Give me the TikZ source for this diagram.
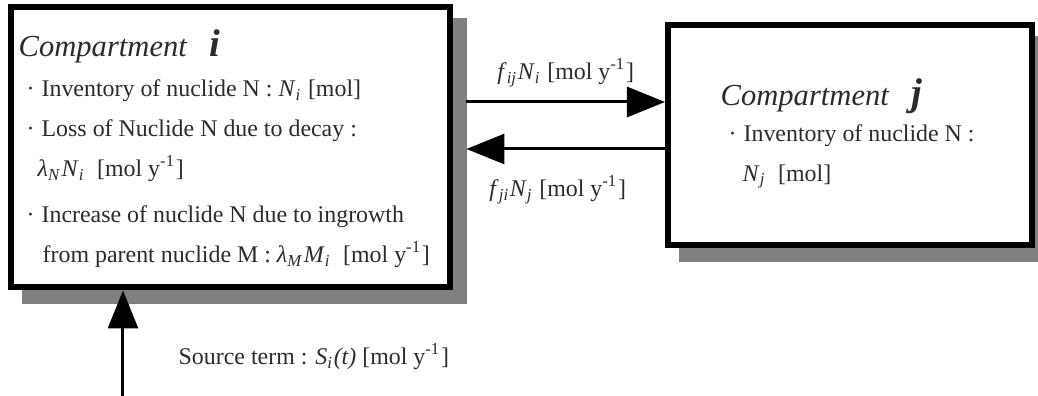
\documentclass[tikz,border=0pt]{standalone}
\usepackage{fontspec}
\setmainfont{Liberation Serif}
\usepackage{tikz}
\usetikzlibrary{arrows.meta,positioning,backgrounds,calc}
\definecolor{shadowgray}{HTML}{808080}
\definecolor{inktext}{HTML}{2B2B2B}
\newcommand{\symb}[2]{\textit{#1}\textsubscript{\textit{#2}}}
\newcommand{\molpy}{[mol y\textsuperscript{-1}]}

\begin{document}
\begin{tikzpicture}[>=Stealth,
    font={\fontsize{6.8pt}{11.4pt}\selectfont}, text=inktext,
    compbox/.style={draw=black, fill=white, line width=0.06cm, inner sep=0pt},
    flow/.style={line width=0.03cm, -{Triangle[length=0.38cm,width=0.3cm]}}]
    \useasboundingbox (0,0) rectangle (10.38,3.96);
    \clip (0,0) rectangle (10.38,3.96);

    % --- Compartment i ---
    \node[compbox, minimum width=4.395cm, minimum height=2.80cm] (boxi) at (2.3075, 2.485) {};
    \node[anchor=north west, inner sep=0pt, align=left] (texti) at (0.18, 3.67)
    {{\fontsize{8.7pt}{11.4pt}\selectfont\textit{Compartment}\hspace{0.22cm}{\fontsize{11pt}{11pt}\selectfont\textbf{\textit{i}}}}\\
     \hspace*{0.08cm}·\hspace{0.07cm}Inventory of nuclide N : \symb{N}{i} [mol]\\
     \hspace*{0.08cm}·\hspace{0.07cm}Loss of Nuclide N due to decay :\\
     \hspace*{0.19cm}\symb{λ}{N}\symb{N}{i} \ \molpy\\[1.7pt]
     \hspace*{0.08cm}·\hspace{0.07cm}Increase of nuclide N due to ingrowth\\
     \hspace*{0.24cm}from parent nuclide M : \symb{λ}{M}\symb{M}{i} \ \molpy};

    % --- Compartment j ---
    \node[compbox, minimum width=3.64cm, minimum height=2.20cm] (boxj) at (8.50, 2.61) {};
    \node[anchor=north west, inner sep=0pt, align=left, font={\fontsize{6.8pt}{10.3pt}\selectfont}] (textj) at (7.20, 3.18)
    {{\fontsize{8.7pt}{10.3pt}\selectfont\textit{Compartment}\hspace{0.22cm}{\fontsize{11pt}{11pt}\selectfont\textbf{\textit{j}}}}\\
     \hspace*{0.08cm}·\hspace{0.07cm}Inventory of nuclide N :\\[1pt]
     \hspace*{0.22cm}\symb{N}{j} \ [mol]};

    % Sombras
    \begin{scope}[on background layer]
        \fill[shadowgray] ([shift={(0.14,-0.14)}]boxi.south west) rectangle ([shift={(0.14,-0.14)}]boxi.north east);
        \fill[shadowgray] ([shift={(0.14,-0.14)}]boxj.south west) rectangle ([shift={(0.14,-0.14)}]boxj.north east);
    \end{scope}

    % --- Flujos entre compartimentos ---
    \coordinate (up) at (5.6, 2.94);
    \coordinate (down) at (5.6, 2.47);
    \draw[flow] ([xshift=1.3mm]boxi.east |- up) -- (boxj.west |- up)
        node[midway, anchor=base, yshift=2.2mm] (fij) {\symb{f}{ij}\symb{N}{i} \molpy};
    \draw[flow] (boxj.west |- down) -- ([xshift=1.3mm]boxi.east |- down)
        node[midway, anchor=base, yshift=-4.8mm, xshift=-0.8mm] (fji) {\symb{f}{ji}\symb{N}{j} \molpy};

    % --- Término fuente ---
    \coordinate (src) at (1.23, 0);
    \draw[flow] (src) -- (boxi.south -| src);
    \node[anchor=base west, inner sep=0pt] (srclabel) at (1.78, 0.31)
    {Source term : \symb{S}{i}\textit{(t)} \molpy};
\end{tikzpicture}
\end{document}
